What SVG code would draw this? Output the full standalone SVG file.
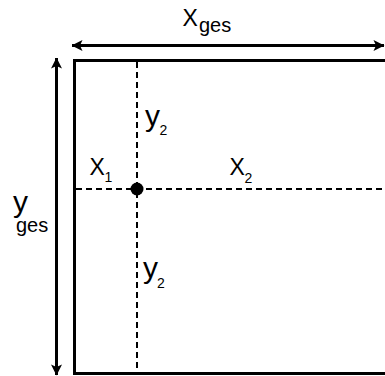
<svg xmlns="http://www.w3.org/2000/svg" width="385" height="376" viewBox="0 0 385 376">
<style>
.bg{fill:#ffffff}
.frame{fill:none;stroke:#000;stroke-width:3}
.dim{fill:none;stroke:#000;stroke-width:3}
.dash{fill:none;stroke:#000;stroke-width:2;stroke-dasharray:6 4}
.lbl{font-family:"Liberation Sans",Arial,sans-serif;fill:#000}
.big{font-size:23px}
.ybig{font-size:30px}
.sub{font-size:20px}
.idx{font-size:14px}
</style>
<defs>
<marker id="ah" viewBox="0 0 12 12" refX="11.5" refY="6" markerWidth="12" markerHeight="12" markerUnits="userSpaceOnUse" orient="auto-start-reverse">
<path d="M12,6 L1,0.5 L3.5,6 L1,11.5 Z" fill="#000"/>
</marker>
</defs>
<rect class="bg" x="0" y="0" width="385" height="376"/>
<g id="area">
<rect class="frame" x="74.5" y="60.5" width="330" height="313"/>
</g>
<g id="point">
<circle cx="137" cy="189" r="6.5" fill="#000"/>
</g>
<g id="connectors">
<line class="dim" x1="72" y1="45.5" x2="384" y2="45.5" marker-start="url(#ah)" marker-end="url(#ah)"/>
<line class="dim" x1="56.5" y1="58" x2="56.5" y2="375" marker-start="url(#ah)" marker-end="url(#ah)"/>
<line class="dash" x1="137" y1="62" x2="137" y2="372"/>
<line class="dash" x1="76" y1="189" x2="385" y2="189"/>
</g>
<g id="labels">
<text class="lbl big" x="182.5" y="26">X</text>
<text class="lbl sub" x="199" y="32">ges</text>
<text class="lbl ybig" x="13" y="212">y</text>
<text class="lbl sub" x="16" y="232">ges</text>
<text class="lbl big" x="89.5" y="175">X</text>
<text class="lbl idx" x="104.5" y="182">1</text>
<text class="lbl big" x="229.5" y="175">X</text>
<text class="lbl idx" x="244.5" y="183">2</text>
<text class="lbl ybig" x="145" y="126">y</text>
<text class="lbl idx" x="159.5" y="135">2</text>
<text class="lbl ybig" x="143" y="278">y</text>
<text class="lbl idx" x="157" y="288">2</text>
</g>
</svg>
